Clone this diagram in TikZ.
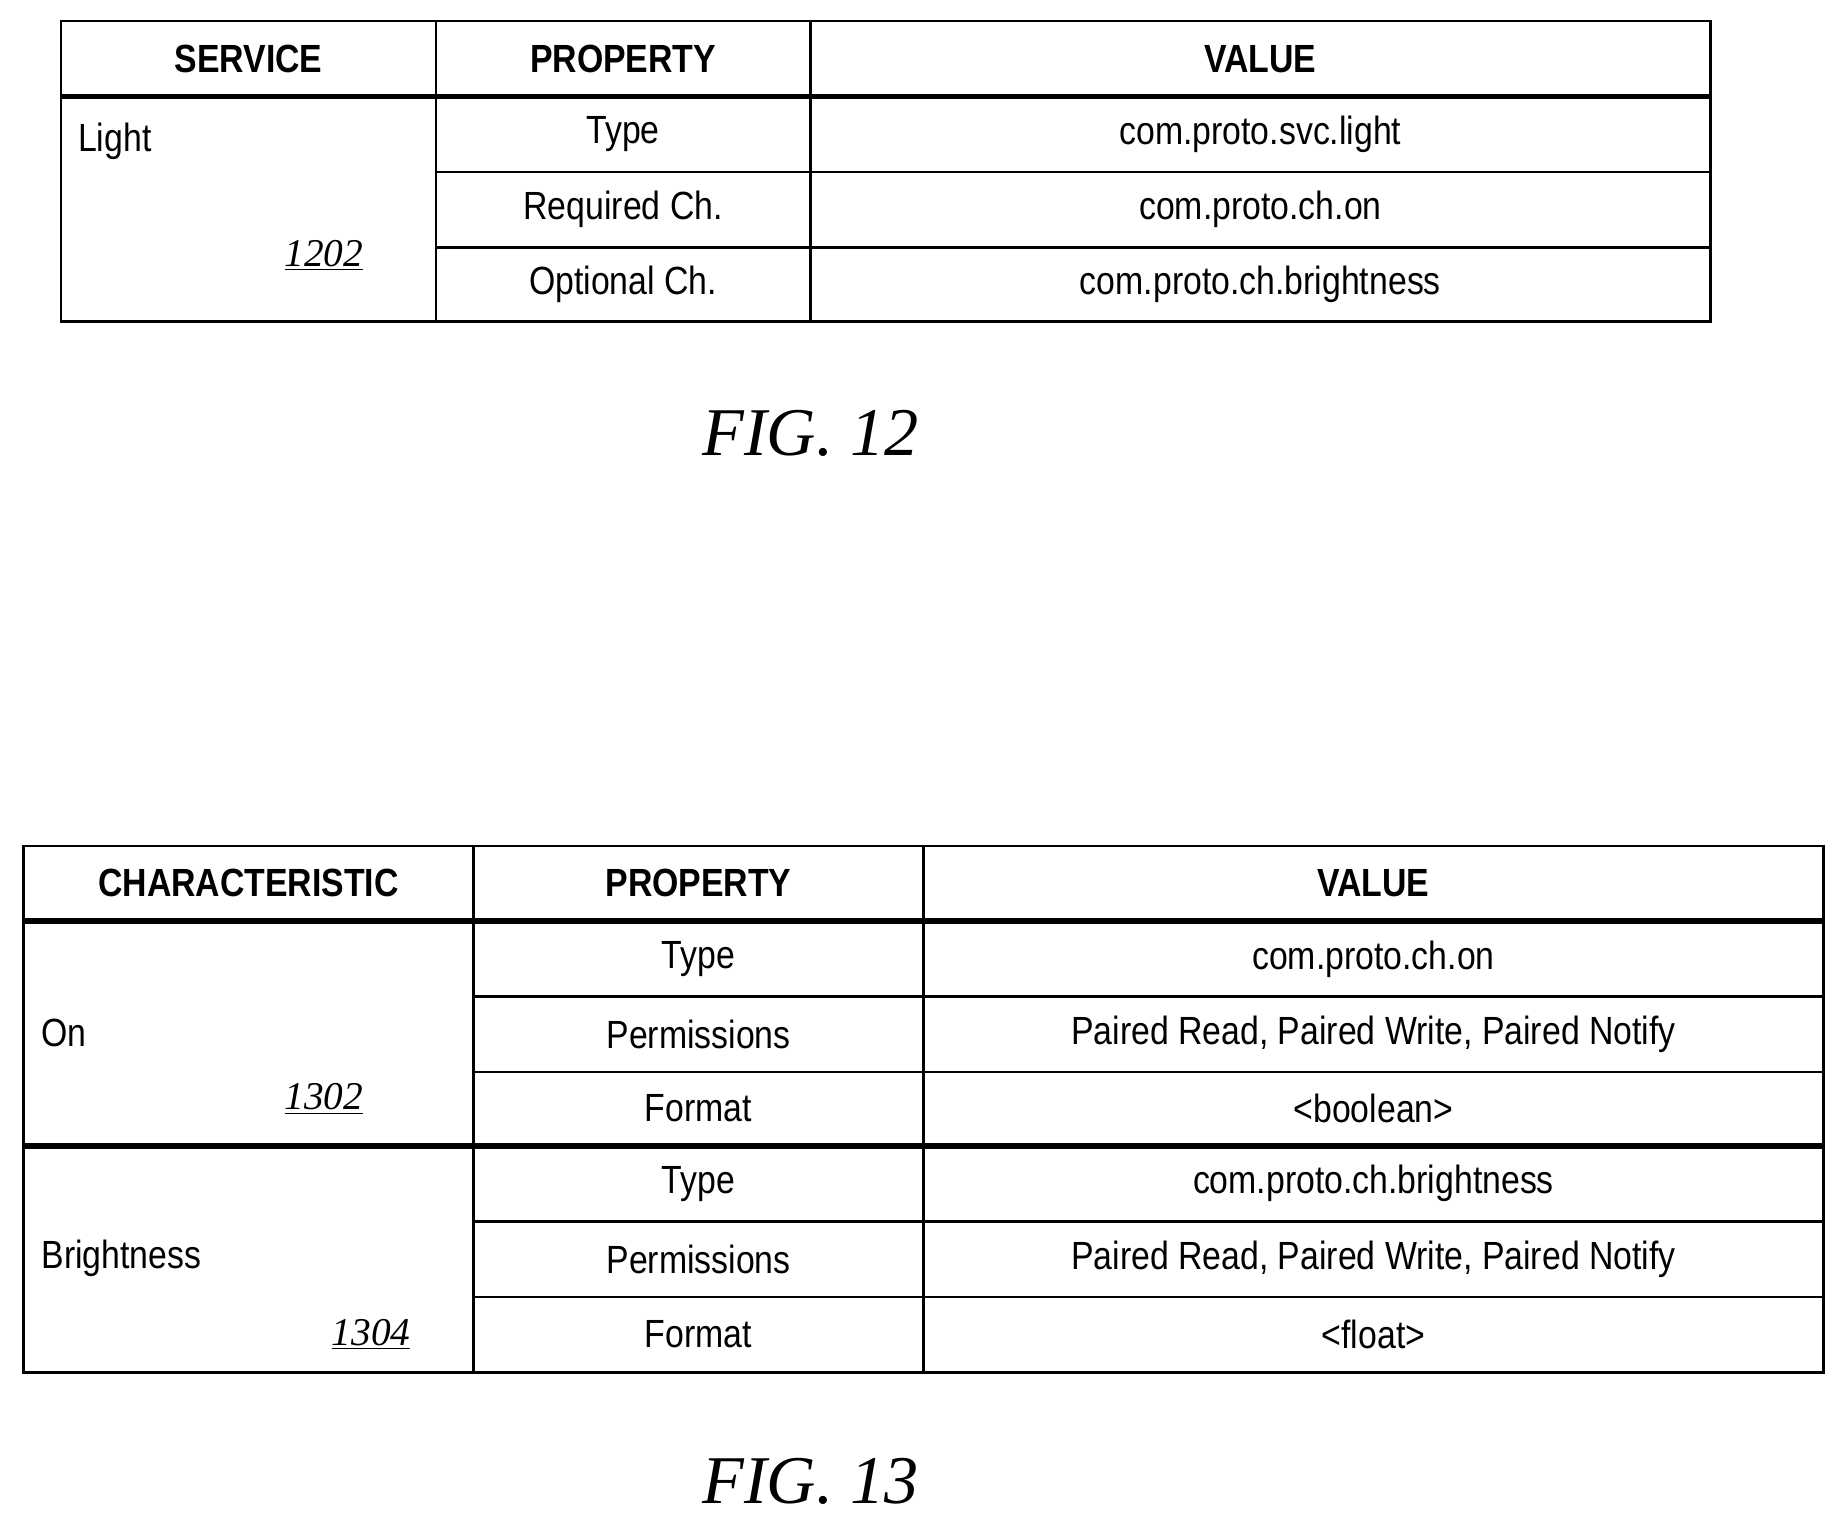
\documentclass[tikz,border=0pt]{standalone}
\usepackage{fontspec}
\setmainfont{Liberation Sans}[FakeStretch=0.86]
\newfontfamily\figfont{Liberation Serif}
\usetikzlibrary{positioning}
\tikzset{
  cell/.style={font=\fontsize{19}{22}\selectfont, inner sep=0pt},
  head/.style={cell, font=\fontsize{19}{22}\selectfont\bfseries},
  refnum/.style={font=\figfont\itshape\fontsize{19}{22}\selectfont, inner sep=0pt},
  figlabel/.style={font=\figfont\itshape\fontsize{33}{38}\selectfont, inner sep=0pt},
  grid/.style={line width=1.2pt},
  thickrule/.style={line width=2.6pt}
}
\begin{document}
\begin{tikzpicture}[x=0.02cm, y=-0.02cm]
  \useasboundingbox (0,0) rectangle (1568,1300);

  % FIG. 12
  \draw [grid] (52,18) rectangle (1452,273);
  \draw [grid] (370,18) -- (370,273);
  \draw [grid] (688,18) -- (688,273);
  \draw [thickrule] (52,82) -- (1452,82);
  \draw [grid] (370,146) -- (1452,146);
  \draw [grid] (370,210) -- (1452,210);
  \node (svc) [head] at (211,50) {SERVICE};
  \node (prop1) [head] at (529,50) {PROPERTY};
  \node (val1) [head] at (1070,50) {VALUE};
  \node (light) [cell, anchor=west] at (66,120) {Light};
  \node (n1202) [refnum] at (275,217) {\underline{1202}};
  \node (p11) [cell] at (529,114) {Type};
  \node (p12) [cell] at (529,178) {Required Ch.};
  \node (p13) [cell] at (529,241) {Optional Ch.};
  \node (v11) [cell] at (1070,114) {com.proto.svc.light};
  \node (v12) [cell] at (1070,178) {com.proto.ch.on};
  \node (v13) [cell] at (1070,241) {com.proto.ch.brightness};
  \node (fig12) [figlabel] at (688,368) {FIG. 12};

  % FIG. 13
  \draw [grid] (20,718) rectangle (1548,1165);
  \draw [grid] (402,718) -- (402,1165);
  \draw [grid] (784,718) -- (784,1165);
  \draw [thickrule] (20,782) -- (1548,782);
  \draw [thickrule] (20,973) -- (1548,973);
  \foreach \y in {846,910,1037,1101}
    \draw [grid] (402,\y) -- (1548,\y);
  \node (chr) [head] at (211,750) {CHARACTERISTIC};
  \node (prop2) [head] at (593,750) {PROPERTY};
  \node (val2) [head] at (1166,750) {VALUE};
  \node (on) [cell, anchor=west] at (35,877) {On};
  \node (n1302) [refnum] at (275,933) {\underline{1302}};
  \node (bright) [cell, anchor=west] at (35,1068) {Brightness};
  \node (n1304) [refnum] at (315,1133) {\underline{1304}};
  \node (p21) [cell] at (593,814) {Type};
  \node (p22) [cell] at (593,878) {Permissions};
  \node (p23) [cell] at (593,941) {Format};
  \node (p24) [cell] at (593,1005) {Type};
  \node (p25) [cell] at (593,1069) {Permissions};
  \node (p26) [cell] at (593,1133) {Format};
  \node (v21) [cell] at (1166,814) {com.proto.ch.on};
  \node (v22) [cell] at (1166,878) {Paired Read, Paired Write, Paired Notify};
  \node (v23) [cell] at (1166,941) {<boolean>};
  \node (v24) [cell] at (1166,1005) {com.proto.ch.brightness};
  \node (v25) [cell] at (1166,1069) {Paired Read, Paired Write, Paired Notify};
  \node (v26) [cell] at (1166,1133) {<float>};
  \node (fig13) [figlabel] at (688,1258) {FIG. 13};
\end{tikzpicture}
\end{document}
